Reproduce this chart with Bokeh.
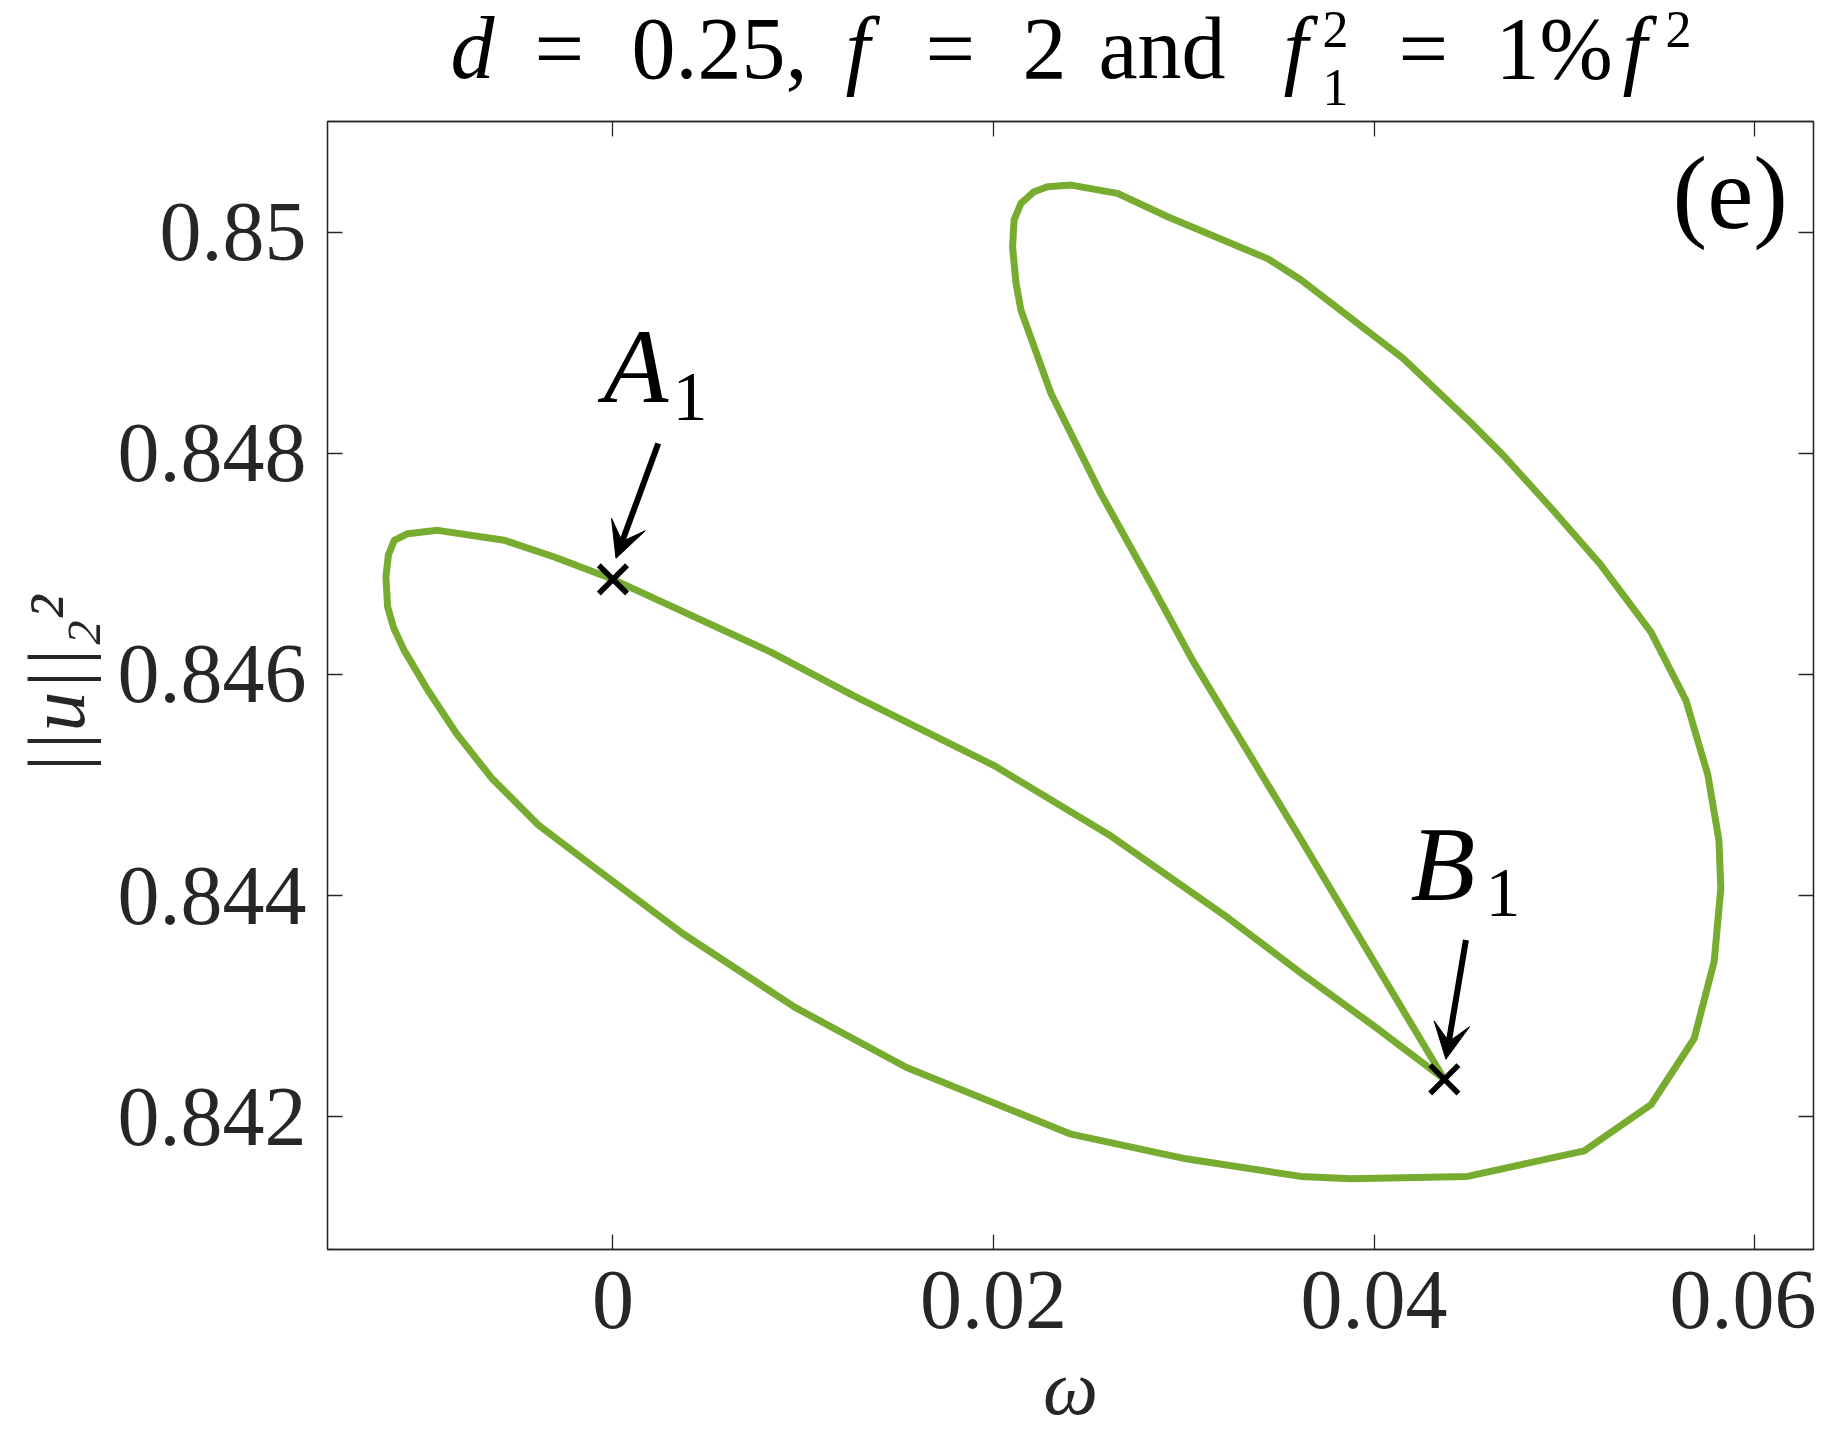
from bokeh.plotting import figure
from bokeh.models import Range1d, FixedTicker, LinearAxis, Label, Arrow, VeeHead
from bokeh.layouts import column
from bokeh.embed import file_html
from bokeh.resources import INLINE

# ---------------- data ----------------
# closed branch: A1 -> B1 (inner line), B1 -> upper loop -> outer arc -> left loop -> A1
omega = [0.0, 0.0083, 0.01261, 0.02003, 0.02617, 0.03231, 0.03615, 0.04, 0.04369,
         0.03615, 0.03046, 0.02827, 0.02564, 0.02302, 0.02144, 0.02118, 0.0210, 0.02108,
         0.02144, 0.02213, 0.02284, 0.02407, 0.02652, 0.02915, 0.0344, 0.03615,
         0.0415, 0.04507, 0.04685, 0.04926, 0.05192, 0.05455, 0.05638, 0.05754,
         0.05812, 0.05822, 0.05787, 0.05682, 0.05455, 0.05104, 0.04491, 0.03878,
         0.03615, 0.03011, 0.02407, 0.01543, 0.00957, 0.0037, -0.00099, -0.00392,
         -0.00637, -0.00821, -0.00975, -0.01098, -0.01152, -0.01184, -0.01193,
         -0.0118, -0.01149, -0.01079, -0.00921, -0.00571, -0.00308, 0.0]
norm = [0.84686, 0.846202, 0.84581, 0.845176, 0.844539, 0.8438, 0.8433, 0.84282, 0.842339,
        0.844509, 0.846127, 0.84682, 0.847635, 0.84854, 0.849294, 0.84954, 0.849867, 0.850109,
        0.85026, 0.850365, 0.85041, 0.850425, 0.85035, 0.850139, 0.84976, 0.849569,
        0.848862, 0.848278, 0.84797, 0.847512, 0.846989, 0.846383, 0.845768, 0.84509,
        0.844502, 0.844068, 0.843403, 0.842708, 0.842109, 0.841692, 0.841461, 0.841439,
        0.841461, 0.84162, 0.841843, 0.842446, 0.842989, 0.843653, 0.844256, 0.844639,
        0.845062, 0.845462, 0.845864, 0.84622, 0.84642, 0.846609, 0.846881,
        0.84708, 0.847213, 0.847273, 0.847303, 0.847213, 0.847062, 0.84686]

point_names = ["A", "B"]
point_omega = [0.0, 0.04369]
point_norm = [0.84686, 0.842339]

x_ticks = [0, 0.02, 0.04, 0.06]
x_tick_labels = ["0", "0.02", "0.04", "0.06"]
y_ticks = [0.842, 0.844, 0.846, 0.848, 0.85]
y_tick_labels = ["0.842", "0.844", "0.846", "0.848", "0.85"]

# ---------------- layout / style ----------------
W, H = 1816, 1435
TH = 119            # title strip height
MH = H - TH         # main figure height
BL, BR, BT = 327, 3, 2
FRAME_H = 1128
BB = MH - BT - FRAME_H
FONT = "Liberation Serif"
AXC = "#262626"
GREEN = "#77AC30"
BASE = 0.37         # baseline correction (fraction of font size)

FL = BL                      # frame left, page px
FB = TH + BT + FRAME_H       # frame bottom, page px

p = figure(width=W, height=MH, output_backend="svg", toolbar_location=None,
           x_range=Range1d(-0.015, 0.06309), y_range=Range1d(0.8408, 0.851),
           min_border_left=BL, min_border_right=BR, min_border_top=BT, min_border_bottom=BB,
           x_axis_type=None, y_axis_type=None)
p.background_fill_color = "white"
p.border_fill_color = "white"
p.outline_line_color = AXC
p.outline_line_width = 1.3


def make_axis(ticks, labels, show):
    ax = LinearAxis(ticker=FixedTicker(ticks=ticks))
    ax.major_tick_in = 15
    ax.major_tick_out = 0
    ax.minor_tick_line_color = None
    ax.major_tick_line_color = AXC
    ax.major_tick_line_width = 1.3
    ax.axis_line_color = AXC
    ax.axis_line_width = 1.3
    if show:
        ax.major_label_overrides = {t: l for t, l in zip(ticks, labels)}
        ax.major_label_text_font = FONT
        ax.major_label_text_font_size = "84px"
        ax.major_label_text_color = AXC
        ax.axis_label_text_font = FONT
        ax.axis_label_text_font_style = "italic"
        ax.axis_label_text_color = AXC
    else:
        ax.major_label_text_font_size = "1px"
        ax.major_label_text_color = None
        ax.major_label_standoff = 0
    return ax


xb = make_axis(x_ticks, x_tick_labels, True)
xb.major_label_standoff = 22
xb.axis_label = "\u03c9"
xb.axis_label_text_font_size = "78px"
xb.axis_label_standoff = 13
yl = make_axis(y_ticks, y_tick_labels, True)
yl.major_label_standoff = 21
yl.axis_label = "||u||\u2082\u00b2"
yl.axis_label_text_font_size = "80px"
yl.axis_label_standoff = 14
p.add_layout(xb, "below")
p.add_layout(yl, "left")
p.add_layout(make_axis(x_ticks, x_tick_labels, False), "above")
p.add_layout(make_axis(y_ticks, y_tick_labels, False), "right")

# curve
p.line(omega, norm, line_width=7, line_color=GREEN, line_join="round", line_cap="round")
# marked points
p.scatter(point_omega, point_norm, marker="x", size=40, line_width=5.5, line_color="black")

# arrows (annotation positions)
arrows = [((0.00238, 0.848088), (0.00016, 0.84705)),
          ((0.044824, 0.843599), (0.043772, 0.84252))]
for (xs, ys), (xe, ye) in arrows:
    p.add_layout(Arrow(x_start=xs, y_start=ys, x_end=xe, y_end=ye, line_width=6,
                       line_color="black",
                       end=VeeHead(size=36, fill_color="black", line_color="black", line_width=1)))


def main_lab(text, px, py, size, style="normal"):
    """text in the main frame, placed by page pixel of its left end / baseline"""
    p.add_layout(Label(x=px - FL, y=FB - (py - BASE * size), x_units="screen", y_units="screen",
                       text=text, text_font=FONT, text_font_size=f"{size}px",
                       text_font_style=style, text_align="left",
                       text_baseline="alphabetic", text_color="black"))


main_lab(point_names[0], 603, 405, 106, "italic")
main_lab("1", 672, 422, 70)
main_lab(point_names[1], 1410, 903, 106, "italic")
main_lab("1", 1485, 918, 70)
main_lab("(e)", 1672, 230, 104)

# title strip (its frame is aligned with the main frame: same left/right borders)
tf = figure(width=W, height=TH, output_backend="svg", toolbar_location=None,
            x_range=Range1d(BL, W - BR), y_range=Range1d(TH, 0),
            min_border_left=BL, min_border_right=BR, min_border_top=0, min_border_bottom=0,
            x_axis_type=None, y_axis_type=None)
tf.outline_line_color = None
tf.background_fill_color = "white"
tf.border_fill_color = "white"


def title_lab(text, px, py, size, style="normal"):
    tf.add_layout(Label(x=px, y=py - BASE * size, text=text, text_font=FONT,
                        text_font_size=f"{size}px", text_font_style=style,
                        text_align="left", text_baseline="alphabetic", text_color="black"))


TB = 81
title_lab("d", 450, TB, 88, "italic")
title_lab("=", 534, TB, 88)
title_lab("0.25,", 631, TB, 88)
title_lab("f", 845, TB, 88, "italic")
title_lab("=", 925, TB, 88)
title_lab("2", 1022, TB, 88)
title_lab("and", 1098, TB, 88)
title_lab("f", 1283, TB, 88, "italic")
title_lab("1", 1322, 106, 52)
title_lab("2", 1322, 48, 52)
title_lab("=", 1398, TB, 88)
title_lab("1%", 1495, TB, 88)
title_lab("f", 1622, TB, 88, "italic")
title_lab("2", 1665, 48, 52)

layout = column(tf, p)
open("out.html", "w").write(file_html(layout, INLINE))
